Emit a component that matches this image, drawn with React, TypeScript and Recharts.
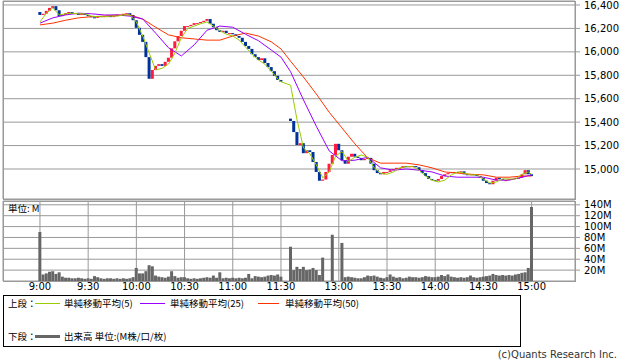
import { Bar, CartesianGrid, ComposedChart, Line, XAxis, YAxis } from 'recharts'

// 前場 2分足（始値 + 終値）
const amOpen = 16340
const amClose = [
  16315, 16325, 16350, 16375, 16390, 16355, 16305, 16315, 16330, 16340,
  16325, 16330, 16315, 16325, 16315, 16305, 16295, 16290, 16305, 16300,
  16305, 16305, 16300, 16305, 16315, 16315, 16325, 16330, 16315, 16270,
  16205, 16145, 16085, 15955, 15770, 15845, 15880, 15895, 15880, 15915,
  15950, 16030, 16090, 16135, 16180, 16220, 16220, 16230, 16245, 16245,
  16255, 16265, 16280, 16240, 16210, 16185, 16170, 16180, 16160, 16160,
  16150, 16135, 16120, 16085, 16050, 16025, 15980, 15955, 15930, 15945,
  15905, 15870, 15835, 15795, 15760, 15745,
]
const amVol = [
  90, 12, 14, 17, 18, 13, 16, 8, 6, 6,
  5, 5, 6, 5, 4, 5, 4, 9, 7, 5,
  4, 5, 5, 4, 5, 4, 5, 4, 5, 7,
  24, 14, 14, 18, 29, 27, 10, 8, 7, 6,
  8, 18, 9, 6, 7, 7, 5, 4, 5, 4,
  5, 6, 7, 6, 10, 6, 16, 5, 6, 5,
  6, 5, 6, 5, 6, 13, 5, 9, 8, 7,
  8, 10, 11, 10, 12, 8,
]
// 移動平均（5 は 2本毎、25/50 は 4本毎に読み取り、最後は引け）
const amMa5 = [
  16255, 16330, 16375, 16315, 16325, 16330, 16325, 16325, 16305, 16300,
  16300, 16305, 16305, 16315, 16315, 16255, 16135, 15990, 15845, 15860,
  15895, 15990, 16120, 16200, 16220, 16240, 16255, 16220, 16180, 16150,
  16135, 16100, 16040, 15980, 15930, 15895, 15835, 15770, 15745,
]
const amMa25 = [
  16245, 16290, 16315, 16330, 16325, 16315, 16315, 16305, 16280, 16160,
  16035, 15965, 16060, 16185, 16220, 16210, 16150, 16095, 16015, 15955,
]
const amMa50 = [
  16230, 16245, 16270, 16290, 16300, 16305, 16315, 16315, 16280, 16210,
  16145, 16120, 16110, 16100, 16100, 16135, 16160, 16135, 16085, 16025,
]

// 後場
const pmOpen = 15430
const pmClose = [
  15410, 15315, 15205, 15220, 15135, 15160, 15145, 15060, 14975, 14900,
  14910, 14975, 15045, 15120, 15215, 15160, 15075, 15045, 15105, 15130,
  15105, 15095, 15075, 15085, 15095, 15045, 14990, 14965, 14955, 14975,
  14975, 14990, 15000, 15010, 15010, 15025, 15015, 15025, 15025, 15015,
  14990, 14965, 14940, 14915, 14905, 14900, 14915, 14940, 14955, 14965,
  14975, 14975, 14975, 14980, 14955, 14950, 14955, 14950, 14940, 14925,
  14900, 14880, 14870, 14900, 14925, 14915, 14905, 14905, 14915, 14915,
  14925, 14925, 14955, 14990, 14955, 14940,
]
const pmVol = [
  63, 20, 26, 22, 26, 20, 21, 24, 20, 11,
  43, 0, 0, 85, 0, 0, 70, 7, 8, 7,
  6, 5, 5, 7, 10, 9, 10, 8, 6, 5,
  7, 12, 8, 6, 7, 5, 6, 8, 7, 7,
  6, 7, 9, 8, 7, 7, 8, 11, 9, 12,
  8, 7, 6, 7, 6, 7, 10, 7, 6, 7,
  8, 9, 10, 13, 11, 10, 11, 10, 11, 10,
  12, 13, 15, 16, 24, 136,
]
const pmMa5 = [
  15715, 15420, 15180, 15130, 15035, 14925, 14975, 15110, 15150, 15065,
  15100, 15120, 15100, 15010, 14965, 14955, 14975, 15010, 15020, 15020,
  14990, 14940, 14905, 14890, 14905, 14950, 14975, 14965, 14950, 14950,
  14915, 14880, 14890, 14915, 14915, 14915, 14955, 14975, 14955,
]
const pmMa25 = [
  15830, 15590, 15365, 15155, 15070, 15075, 15100, 15010, 14990, 15000,
  14990, 14975, 14940, 14930, 14930, 14930, 14905, 14905, 14930, 14950,
]
const pmMa50 = [
  15920, 15785, 15640, 15485, 15350, 15215, 15095, 15050, 15050, 15050,
  15035, 15010, 14975, 14965, 14955, 14950, 14930, 14930, 14940, 14940,
]

const tickLabels = ['9:00', '9:30', '10:00', '10:30', '11:00', '11:30', '13:00', '13:30', '14:00', '14:30', '15:00']
const priceTicks = [15000, 15200, 15400, 15600, 15800, 16000, 16200, 16400]
const volTicks = [20, 40, 60, 80, 100, 120, 140]

const UP = '#ff1a40'
const DOWN = '#003399'
const GRID = '#999'

type Row = {
  i: number
  time?: string
  open?: number
  close?: number
  range?: [number, number]
  vol?: number
  ma5: number | null
  ma25: number | null
  ma50: number | null
}

const rows: Row[] = []
const hhmm = (m: number) => `${Math.floor(m / 60)}:${String(m % 60).padStart(2, '0')}`
const blank = (n: number) => {
  for (let j = 0; j < n; j++) rows.push({ i: rows.length, ma5: null, ma25: null, ma50: null })
}
function session(start: number, open0: number, closes: number[], vols: number[], ma5: number[], ma25: number[], ma50: number[]) {
  const base = rows.length
  closes.forEach((c, k) => {
    const o = k === 0 ? open0 : closes[k - 1]
    rows.push({
      i: base + k,
      time: hhmm(start + 2 * k),
      open: o,
      close: c,
      range: [Math.min(o, c), Math.max(o, c)],
      vol: vols[k],
      ma5: null,
      ma25: null,
      ma50: null,
    })
  })
  const place = (arr: number[], step: number, key: 'ma5' | 'ma25' | 'ma50') =>
    arr.forEach((v, j) => {
      const k = j === arr.length - 1 ? closes.length - 1 : j * step
      rows[base + k][key] = v
    })
  place(ma5, 2, 'ma5')
  place(ma25, 4, 'ma25')
  place(ma50, 4, 'ma50')
}

blank(11)
session(9 * 60, amOpen, amClose, amVol, amMa5, amMa25, amMa50)
blank(2)
session(12 * 60 + 30, pmOpen, pmClose, pmVol, pmMa5, pmMa25, pmMa50)
blank(13)

function Candle(props: any) {
  const { x, y, width, height, payload } = props
  if (!payload || payload.range == null) return null
  const top = Math.min(y, y + height)
  const h = Math.max(1, Math.abs(height))
  const up = payload.close >= payload.open
  return <rect x={x} y={top} width={width} height={h} fill={up ? UP : DOWN} />
}

const tickFont = { fontSize: 10, fill: '#000', fontFamily: 'DejaVu Sans' }
const xTicks = tickLabels.map((t) => rows.findIndex((r) => r.time === t))
const legendText = { position: 'absolute' as const, fontSize: 9.5, lineHeight: '12px' }

export default function App() {
  return (
    <div style={{ position: 'fixed', left: 0, top: 0, width: 638, height: 362, background: '#fff', fontFamily: '"Noto Sans CJK JP", "DejaVu Sans", sans-serif', color: '#000' }}>
      <div style={{ position: 'absolute', left: 0, top: 0 }}>
        <ComposedChart width={638} height={200} data={rows} margin={{ top: 1, right: 0, bottom: 1, left: 3 }} barCategoryGap={0}>
          <CartesianGrid stroke={GRID} />
          <XAxis type="category" dataKey="i" ticks={xTicks} interval={0} height={0} tick={false} tickLine={false} axisLine={false} />
          <YAxis
            orientation="right"
            width={63}
            domain={[14744, 16434]}
            ticks={priceTicks}
            interval={0}
            allowDataOverflow
            tickFormatter={(v: number) => v.toLocaleString('en-US')}
            tick={tickFont}
            tickSize={5}
            tickMargin={4}
            tickLine={{ stroke: GRID }}
            axisLine={false}
          />
          <Line type="linear" dataKey="ma50" stroke="#ff3300" strokeWidth={1} dot={false} connectNulls isAnimationActive={false} />
          <Line type="linear" dataKey="ma25" stroke="#9900ff" strokeWidth={1} dot={false} connectNulls isAnimationActive={false} />
          <Line type="linear" dataKey="ma5" stroke="#99cc00" strokeWidth={1} dot={false} connectNulls isAnimationActive={false} />
          <Bar dataKey="range" barSize={3} shape={Candle} isAnimationActive={false} />
        </ComposedChart>
      </div>
      <div style={{ position: 'absolute', left: 3, top: 1, width: 573, height: 199, boxSizing: 'border-box', border: `1px solid ${GRID}`, pointerEvents: 'none' }} />

      <div style={{ position: 'absolute', left: 0, top: 200 }}>
        <ComposedChart width={638} height={100} data={rows} margin={{ top: 1, right: 0, bottom: 0, left: 3 }} barCategoryGap={0}>
          <CartesianGrid stroke={GRID} />
          <XAxis
            type="category"
            dataKey="i"
            ticks={xTicks}
            interval={0}
            tickFormatter={(v: number) => rows[v]?.time ?? ''}
            height={19}
            tickSize={0}
            tickMargin={2}
            tickLine={false}
            axisLine={false}
            tick={tickFont}
          />
          <YAxis
            orientation="right"
            width={63}
            domain={[0, 147]}
            ticks={volTicks}
            interval={0}
            allowDataOverflow
            tickFormatter={(v: number) => `${v}M`}
            tick={tickFont}
            tickSize={5}
            tickMargin={4}
            tickLine={{ stroke: GRID }}
            axisLine={false}
          />
          <Bar dataKey="vol" fill="#666" barSize={3} isAnimationActive={false} />
        </ComposedChart>
      </div>
      <div style={{ position: 'absolute', left: 3, top: 201, width: 573, height: 81, boxSizing: 'border-box', border: `1px solid ${GRID}`, pointerEvents: 'none' }} />
      <div style={{ ...legendText, left: 8, top: 202 }}>単位: M</div>

      <div style={{ position: 'absolute', left: 3, top: 295, width: 518, height: 52, boxSizing: 'border-box', border: '1px solid #000' }} />
      <div style={{ ...legendText, left: 8, top: 297 }}>上段：</div>
      <div style={{ position: 'absolute', left: 35, top: 303, width: 25, height: 1, background: '#99cc00' }} />
      <div style={{ ...legendText, left: 64, top: 297 }}>単純移動平均(5)</div>
      <div style={{ position: 'absolute', left: 140, top: 303, width: 25, height: 1, background: '#9900ff' }} />
      <div style={{ ...legendText, left: 170, top: 297 }}>単純移動平均(25)</div>
      <div style={{ position: 'absolute', left: 258, top: 303, width: 21, height: 1, background: '#ff3300' }} />
      <div style={{ ...legendText, left: 285, top: 297 }}>単純移動平均(50)</div>

      <div style={{ ...legendText, left: 8, top: 330 }}>下段：</div>
      <div style={{ position: 'absolute', left: 35, top: 335, width: 25, height: 3, background: '#666' }} />
      <div style={{ ...legendText, left: 64, top: 330 }}>出来高 単位:(M株/口/枚)</div>

      <div style={{ position: 'absolute', right: 21, top: 349, fontSize: 10, lineHeight: '12px', color: '#333', fontFamily: '"DejaVu Sans", sans-serif' }}>(c)Quants Research Inc.</div>
    </div>
  )
}
